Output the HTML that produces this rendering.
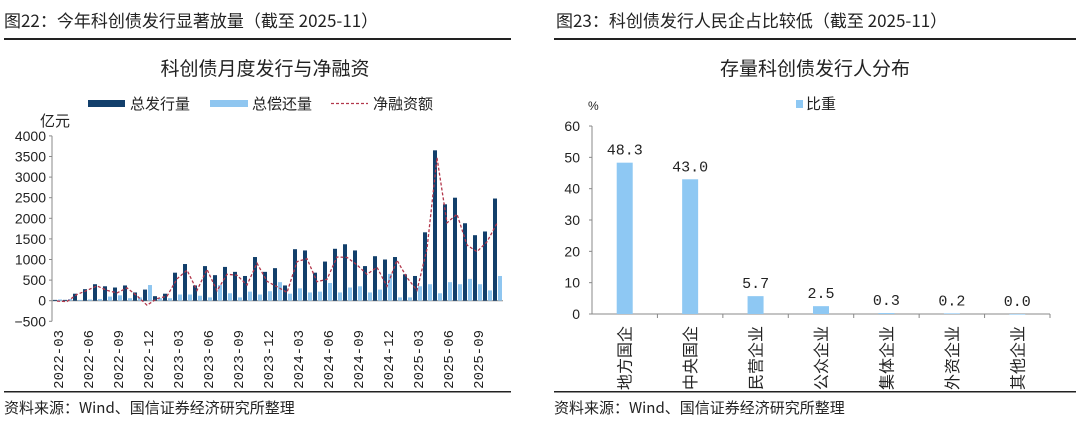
<!DOCTYPE html>
<html><head><meta charset="utf-8"><style>
html,body{margin:0;padding:0;background:#fff;}
svg{display:block;font-family:"Liberation Sans","Noto Sans CJK SC",sans-serif;}
</style></head><body>
<svg width="1080" height="428" viewBox="0 0 1080 428" xmlns="http://www.w3.org/2000/svg">
<g font-family="'Noto Sans CJK SC','WenQuanYi Zen Hei',sans-serif" fill="#222">
<text x="4" y="27" font-size="17">图22：今年科创债发行显著放量（截至 2025-11）</text>
<text x="556" y="27" font-size="17">图23：科创债发行人民企占比较低（截至 2025-11）</text>
<text x="265" y="75" font-size="19" text-anchor="middle">科创债月度发行与净融资</text>
<text x="815" y="75" font-size="19" text-anchor="middle">存量科创债发行人分布</text>
<text x="4" y="413" font-size="15">资料来源：Wind、国信证券经济研究所整理</text>
<text x="554" y="413" font-size="15">资料来源：Wind、国信证券经济研究所整理</text>
</g>
<rect x="4" y="38" width="507" height="2" fill="#222"/>
<rect x="554" y="38" width="522" height="2" fill="#222"/>
<rect x="4" y="391" width="507" height="1.5" fill="#222"/>
<rect x="554" y="391" width="522" height="1.5" fill="#222"/>
<g id="left"></g>
<g id="right"></g>
</svg>
<script>
const NS="http://www.w3.org/2000/svg";
function el(p,t,a,txt){const e=document.createElementNS(NS,t);for(const k in a)e.setAttribute(k,a[k]);if(txt!==undefined)e.textContent=txt;p.appendChild(e);return e;}
const L=document.getElementById('left');
const y0=300.7,s=0.0412;const Y=v=>y0-v*s;
el(L,'line',{x1:52,y1:Y(4000),x2:52,y2:Y(-500),stroke:'#888','stroke-width':1});
el(L,'line',{x1:52,y1:Y(0),x2:503,y2:Y(0),stroke:'#888','stroke-width':1});
for(let v=-500;v<=4000;v+=500){el(L,'line',{x1:49,y1:Y(v),x2:52,y2:Y(v),stroke:'#888'});
el(L,'text',{x:46,y:Y(v)+5,'font-size':14,'text-anchor':'end',fill:'#222'},v<0?'−500':String(v));}
el(L,'text',{x:40,y:126,'font-size':15,fill:'#222','font-family':"'Noto Sans CJK SC',sans-serif"},'亿元');
const iss=[20,20,170,280,400,350,320,370,200,270,110,170,680,890,370,840,620,820,700,600,1060,700,790,370,1250,1220,680,950,1260,1370,1220,840,1080,1000,1060,640,600,1660,3650,2340,2500,1880,1590,1680,2480];
const rep=[30,40,20,30,40,100,130,60,80,380,60,60,150,150,120,80,380,180,80,220,150,230,450,170,300,200,220,430,200,320,350,200,270,650,80,80,350,400,180,450,400,530,400,250,600];
let pts=[];
for(let i=0;i<45;i++){const c=58+10*i;
el(L,'rect',{x:c-5,y:Y(iss[i]),width:4,height:iss[i]*s,fill:'#123f6b'});
el(L,'rect',{x:c,y:Y(rep[i]),width:4,height:rep[i]*s,fill:'#8fc6f0'});
pts.push((c-1)+','+Y(iss[i]-rep[i]).toFixed(1));}
el(L,'polyline',{points:pts.join(' '),fill:'none',stroke:'#b2374b','stroke-width':1.3,'stroke-dasharray':'3,2'});
const labs=['2022-03','2022-06','2022-09','2022-12','2023-03','2023-06','2023-09','2023-12','2024-03','2024-06','2024-09','2024-12','2025-03','2025-06','2025-09'];
labs.forEach((t,k)=>{const x=58+30*k+5;el(L,'text',{x:x,y:330,'font-size':14,'text-anchor':'end',fill:'#222','font-family':"'Liberation Mono',monospace",transform:`rotate(-90 ${x} 330)`},t);});
el(L,'rect',{x:88,y:100,width:37,height:7,fill:'#123f6b'});
el(L,'text',{x:130,y:109,'font-size':15,fill:'#222','font-family':"'Noto Sans CJK SC',sans-serif"},'总发行量');
el(L,'rect',{x:210,y:100,width:38,height:7,fill:'#8fc6f0'});
el(L,'text',{x:252,y:109,'font-size':15,fill:'#222','font-family':"'Noto Sans CJK SC',sans-serif"},'总偿还量');
el(L,'line',{x1:331,y1:103.5,x2:368,y2:103.5,stroke:'#b2374b','stroke-width':1.3,'stroke-dasharray':'3,2'});
el(L,'text',{x:373,y:109,'font-size':15,fill:'#222','font-family':"'Noto Sans CJK SC',sans-serif"},'净融资额');
const R=document.getElementById('right');
const r0=314,rs=3.133;const RY=v=>r0-v*rs;
el(R,'line',{x1:592,y1:RY(60),x2:592,y2:RY(0),stroke:'#888'});
el(R,'line',{x1:592,y1:RY(0),x2:1050,y2:RY(0),stroke:'#888'});
for(let v=0;v<=60;v+=10){el(R,'line',{x1:589,y1:RY(v),x2:592,y2:RY(v),stroke:'#888'});
el(R,'text',{x:580,y:RY(v)+5,'font-size':14,'text-anchor':'end',fill:'#222'},String(v));}
el(R,'text',{x:588,y:110,'font-size':12,fill:'#222'},'%');
const cats=['地方国企','中央国企','民营企业','公众企业','集体企业','外资企业','其他企业'];
const vals=[48.3,43.0,5.7,2.5,0.3,0.2,0.0];
const w=458/7;
for(let k=0;k<7;k++){const c=592+w*(k+0.5);
if(k>0)el(R,'line',{x1:592+w*k,y1:r0,x2:592+w*k,y2:r0+4,stroke:'#888'});
el(R,'rect',{x:c-8,y:RY(vals[k]),width:16,height:Math.max(vals[k]*rs,0.6),fill:'#8ec8f3'});
el(R,'text',{x:c,y:RY(vals[k])-8,'font-size':15,'text-anchor':'middle',fill:'#222','font-family':"'Liberation Mono',monospace"},vals[k].toFixed(1));
el(R,'text',{x:c+6,y:326,'font-size':16,'text-anchor':'end',fill:'#222','font-family':"'Noto Sans CJK SC',sans-serif",transform:`rotate(-90 ${c+6} 326)`},cats[k]);}
el(R,'line',{x1:1050,y1:r0,x2:1050,y2:r0+4,stroke:'#888'});
el(R,'rect',{x:796,y:100,width:7,height:8,fill:'#8ec8f3'});
el(R,'text',{x:806,y:109,'font-size':15,fill:'#222','font-family':"'Noto Sans CJK SC',sans-serif"},'比重');
</script>
</body></html>
